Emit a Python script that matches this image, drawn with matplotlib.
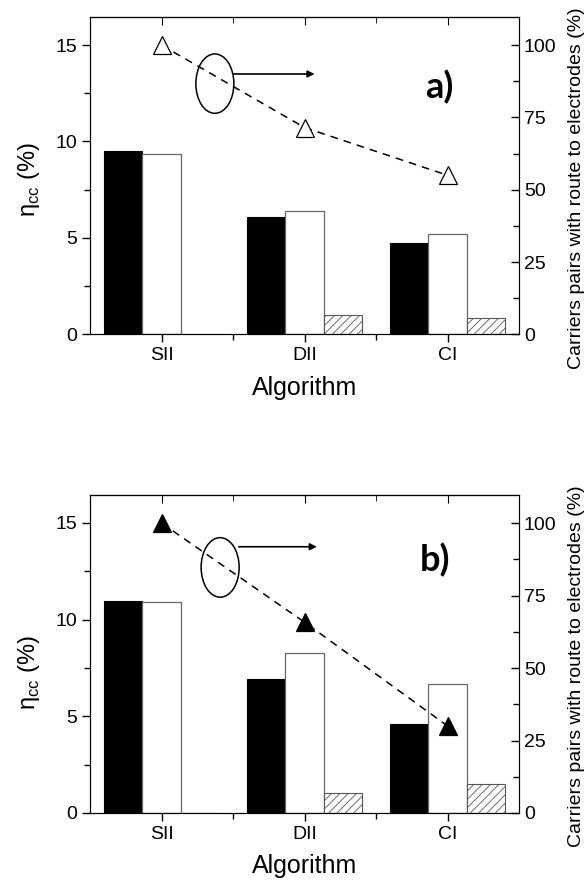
import matplotlib
matplotlib.use("Agg")
import matplotlib.pyplot as plt
from matplotlib.patches import Ellipse
import numpy as np

plt.rcParams['font.family'] = ['Liberation Sans', 'DejaVu Sans']
plt.rcParams['mathtext.fontset'] = 'custom'
plt.rcParams['mathtext.rm'] = 'Liberation Sans'
plt.rcParams['hatch.linewidth'] = 0.6

algorithms = ["SII", "DII", "CI"]

# panel a
a_black = [9.52, 6.07, 4.74]
a_white = [9.36, 6.40, 5.20]
a_hatch = [0, 0.99, 0.87]
a_route = [100, 71.5, 55.0]

# panel b
b_black = [10.97, 6.94, 4.60]
b_white = [10.90, 8.25, 6.68]
b_hatch = [0, 1.05, 1.49]
b_route = [100, 65.8, 30.0]

panels = [
    dict(black=a_black, white=a_white, hatched=a_hatch, route=a_route, label="a)", mfc="white",
         rect=[0.1533, 0.6227, 0.731, 0.358], ell=(0.373, 13.0), arr_y=13.5, arr_x=(0.5, 1.07),
         lab=(1.94, 12.26), ylab_y=0.487, rlab_y=0.46),
    dict(black=b_black, white=b_white, hatched=b_hatch, route=b_route, label="b)", mfc="black",
         rect=[0.1533, 0.0824, 0.731, 0.359], ell=(0.41, 12.7), arr_y=13.77, arr_x=(0.54, 1.086),
         lab=(1.91, 12.5), ylab_y=0.44, rlab_y=0.462),
]

fig = plt.figure(figsize=(5.87, 8.86), dpi=100)
x = np.arange(len(algorithms))
w = 0.268

for p in panels:
    ax = fig.add_axes(p["rect"])
    ax.bar(x - w, p["black"], w, color="black", edgecolor="black", linewidth=0.8)
    ax.bar(x, p["white"], w, color="white", edgecolor="#666666", linewidth=0.9)
    ax.bar(x + w, p["hatched"], w, color="white", edgecolor="#555555", linewidth=0.8, hatch="////")
    ax.set_xlim(-0.5, 2.5)
    ax.set_ylim(0, 16.45)
    ax.set_xticks(x)
    ax.set_xticklabels(algorithms, fontsize=14)
    ax.set_xticks([0.5, 1.5], minor=True)
    ax.set_yticks([0, 5, 10, 15])
    ax.set_yticks([2.5, 7.5, 12.5], minor=True)
    ax.tick_params(axis="y", which="both", direction="out", labelsize=14, right=False)
    ax.tick_params(axis="x", which="both", direction="out", bottom=True, top=False)
    ax.tick_params(which="major", length=6, width=1)
    ax.tick_params(which="minor", length=4, width=1)
    # inward top ticks
    top = ax.secondary_xaxis("top")
    top.set_xticks(x)
    top.set_xticks([0.5, 1.5], minor=True)
    top.tick_params(which="both", direction="in", labeltop=False)
    top.tick_params(which="major", length=6)
    top.tick_params(which="minor", length=4)
    ax.set_xlabel("Algorithm", fontsize=18, labelpad=8)
    ax.set_ylabel("η$_\\mathrm{cc}$ (%)", fontsize=17)
    ax.yaxis.set_label_coords(-0.112, p["ylab_y"])

    ax.add_patch(Ellipse(p["ell"], 0.266, 3.08, fill=False, edgecolor="black", linewidth=1.1, zorder=5))
    ax.annotate("", xy=(p["arr_x"][1], p["arr_y"]), xytext=(p["arr_x"][0], p["arr_y"]),
                arrowprops=dict(arrowstyle="-|>", color="black", lw=1.2, mutation_scale=10,
                                shrinkA=0, shrinkB=0))
    ax.text(p["lab"][0], p["lab"][1], p["label"], fontsize=26, fontweight="bold", family="Lato",
            ha="center", va="baseline")

    ax2 = ax.twinx()
    ax2.plot(x, p["route"], linestyle="--", dashes=(5, 4), color="black", lw=1.1,
             marker="^", markersize=13, markerfacecolor=p["mfc"], markeredgecolor="black",
             markeredgewidth=0.9)
    ax2.set_ylim(0, 109.7)
    ax2.set_yticks([0, 25, 50, 75, 100])
    ax2.set_yticks([12.5, 37.5, 62.5, 87.5], minor=True)
    ax2.tick_params(which="both", direction="in", labelsize=14)
    ax2.tick_params(which="major", length=6, width=1)
    ax2.tick_params(which="minor", length=4, width=1)
    ax2.set_ylabel("Carriers pairs with route to electrodes (%)", fontsize=14)
    ax2.yaxis.set_label_coords(1.115, p["rlab_y"])

fig.savefig("out.png", dpi=100)
